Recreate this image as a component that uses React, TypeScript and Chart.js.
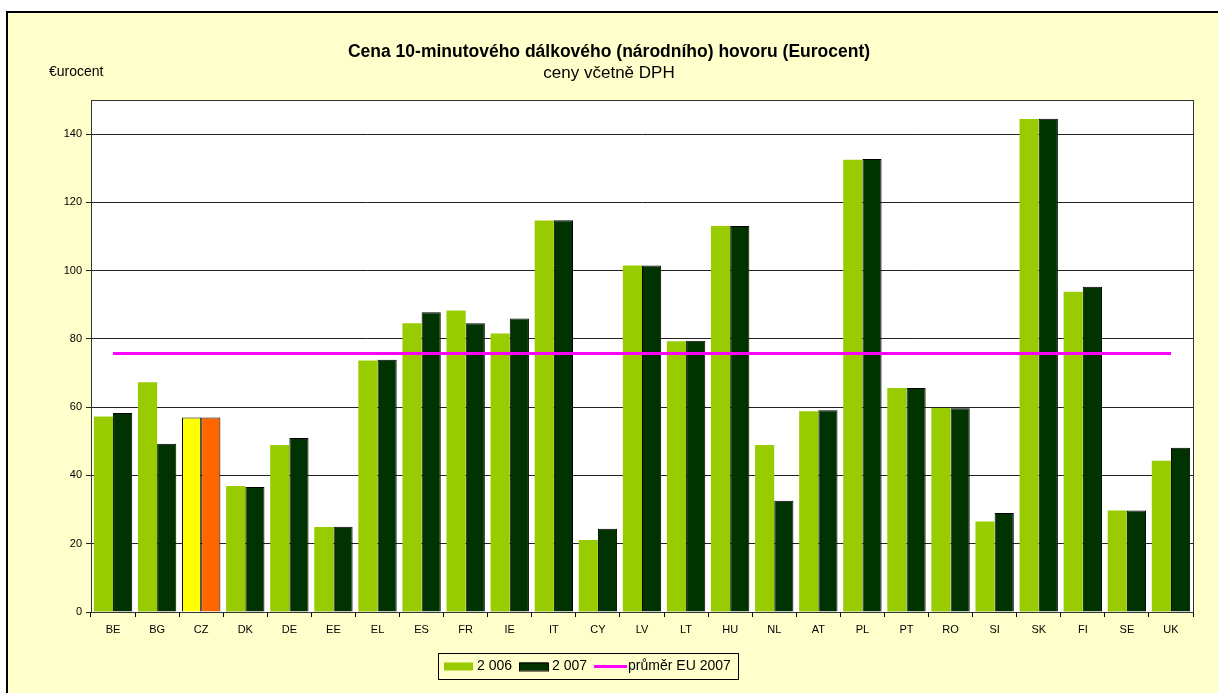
import React, { useEffect, useRef } from "react";
import { Chart, registerables } from "chart.js";

Chart.register(...registerables);

const categories = ["BE","BG","CZ","DK","DE","EE","EL","ES","FR","IE","IT","CY","LV","LT","HU","NL","AT","PL","PT","RO","SI","SK","FI","SE","UK"];
const values2006 = [57.3,67.3,57.0,36.9,48.9,24.9,73.7,84.6,88.3,81.6,114.7,21.1,101.5,79.3,113.1,48.9,58.8,132.5,65.6,59.8,26.5,144.4,93.8,29.7,44.3];
const values2007 = [58.3,49.3,57.0,36.6,51.0,25.0,73.9,87.8,84.6,86.0,114.8,24.4,101.5,79.5,113.1,32.6,59.1,132.7,65.6,59.7,29.0,144.5,95.3,29.7,48.1];
const euAverage2007 = 75.7;
const yTicks = [0, 20, 40, 60, 80, 100, 120, 140];
const seriesLabels = ["2 006", "2 007", "průměr EU 2007"];
const titleText = "Cena 10-minutového dálkového (národního) hovoru (Eurocent)";
const subtitleText = "ceny včetně DPH";
const unitText = "€urocent";
const highlight = "CZ";

const FONT = '"Liberation Sans", Arial, sans-serif';
const GREEN = "#99CC00";
const DARK = "#003300";
const MAGENTA = "#FF00FF";
const CREAM = "#FFFFCC";

const decorPlugin = {
  id: "decor",
  beforeDraw(chart: any) {
    const { ctx, width, height, chartArea } = chart;
    ctx.save();
    ctx.fillStyle = "#ffffff";
    ctx.fillRect(0, 0, width, height);
    ctx.fillStyle = CREAM;
    ctx.fillRect(7, 12, width - 7, height - 12);
    ctx.strokeStyle = "#000";
    ctx.lineWidth = 2;
    ctx.beginPath();
    ctx.moveTo(7, height);
    ctx.lineTo(7, 12);
    ctx.lineTo(width, 12);
    ctx.stroke();
    ctx.fillStyle = "#ffffff";
    ctx.fillRect(chartArea.left, chartArea.top, chartArea.right - chartArea.left, chartArea.bottom - chartArea.top);
    ctx.restore();
  },
  afterDraw(chart: any) {
    const { ctx, chartArea, width } = chart;
    ctx.save();
    // plot border
    ctx.strokeStyle = "#333";
    ctx.lineWidth = 1;
    ctx.strokeRect(Math.round(chartArea.left) + 0.5, Math.round(chartArea.top) + 0.5,
      Math.round(chartArea.right - chartArea.left), Math.round(chartArea.bottom - chartArea.top));
    // titles
    ctx.fillStyle = "#000";
    ctx.textAlign = "center";
    ctx.textBaseline = "middle";
    ctx.font = `bold 17.5px ${FONT}`;
    ctx.fillText(titleText, 609, 52);
    ctx.font = `17px ${FONT}`;
    ctx.fillText(subtitleText, 609, 73);
    ctx.textAlign = "left";
    ctx.font = `14px ${FONT}`;
    ctx.fillText(unitText, 49, 72);
    // legend
    const bx = 438.5, by = 653.5, bw = 300, bh = 26;
    ctx.fillStyle = CREAM;
    ctx.fillRect(bx, by, bw, bh);
    ctx.strokeStyle = "#000";
    ctx.lineWidth = 1;
    ctx.strokeRect(bx, by, bw, bh);
    const cy = by + bh / 2;
    ctx.font = `14px ${FONT}`;
    ctx.textBaseline = "middle";
    let x = 444;
    // item 1
    ctx.fillStyle = GREEN;
    ctx.fillRect(x, cy - 4, 29, 8);
    x += 33;
    ctx.fillStyle = "#000";
    ctx.fillText(seriesLabels[0], x, cy);
    x += ctx.measureText(seriesLabels[0]).width + 7;
    // item 2
    ctx.fillStyle = DARK;
    ctx.fillRect(x, cy - 4, 29, 8);
    ctx.strokeRect(x + 0.5, cy - 3.5, 29, 8);
    x += 33;
    ctx.fillStyle = "#000";
    ctx.fillText(seriesLabels[1], x, cy);
    x += ctx.measureText(seriesLabels[1]).width + 7;
    // item 3
    ctx.strokeStyle = MAGENTA;
    ctx.lineWidth = 3;
    ctx.beginPath();
    ctx.moveTo(x, cy);
    ctx.lineTo(x + 33, cy);
    ctx.stroke();
    x += 34;
    ctx.fillStyle = "#000";
    ctx.fillText(seriesLabels[2], x, cy);
    ctx.restore();
  },
};

export default function App() {
  const ref = useRef<HTMLCanvasElement | null>(null);
  useEffect(() => {
    document.body.style.margin = "0";
    const canvas = ref.current;
    if (!canvas) return;
    const chart = new Chart(canvas, {
      type: "bar",
      data: {
        labels: categories,
        datasets: [
          {
            type: "line",
            label: seriesLabels[2],
            data: categories.map(() => euAverage2007),
            borderColor: MAGENTA,
            borderWidth: 3,
            pointRadius: 0,
            fill: false,
            order: 0,
          } as any,
          {
            label: seriesLabels[0],
            data: values2006,
            backgroundColor: categories.map((c) => (c === highlight ? "#FFFF00" : GREEN)),
            borderColor: "#000",
            borderWidth: categories.map((c) => (c === highlight ? 1 : 0)),
            borderSkipped: "bottom",
            categoryPercentage: 0.87,
            barPercentage: 1,
            order: 1,
          },
          {
            label: seriesLabels[1],
            data: values2007,
            backgroundColor: categories.map((c) => (c === highlight ? "#FF6600" : DARK)),
            borderColor: "#000",
            borderWidth: 1,
            borderSkipped: "bottom",
            categoryPercentage: 0.87,
            barPercentage: 1,
            order: 1,
          },
        ],
      },
      options: {
        animation: false,
        responsive: false,
        maintainAspectRatio: false,
        layout: { padding: { left: 0, top: 100, right: 25, bottom: 0 } },
        plugins: {
          legend: { display: false },
          title: { display: false },
          tooltip: { enabled: false },
        },
        scales: {
          x: {
            grid: {
              display: true,
              drawOnChartArea: false,
              drawTicks: true,
              tickLength: 5,
              color: "#000",
              offset: true,
            },
            border: { display: true, color: "#000", width: 1 },
            ticks: { color: "#000", font: { size: 11, family: FONT }, padding: 6, maxRotation: 0, autoSkip: false },
            afterFit: (s: any) => {
              s.height = 693 - 612;
            },
          },
          y: {
            min: 0,
            max: 150,
            afterBuildTicks: (s: any) => {
              s.ticks = yTicks.map((v) => ({ value: v }));
            },
            grid: { color: "#222", tickLength: 5, drawTicks: true },
            border: { display: true, color: "#000", width: 1 },
            ticks: { color: "#000", font: { size: 11, family: FONT }, padding: 4 },
            afterFit: (s: any) => {
              s.width = 91;
            },
          },
        },
      },
      plugins: [decorPlugin],
    });
    return () => chart.destroy();
  }, []);
  return <canvas ref={ref} width={1218} height={693} style={{ display: "block", width: 1218, height: 693 }} />;
}
